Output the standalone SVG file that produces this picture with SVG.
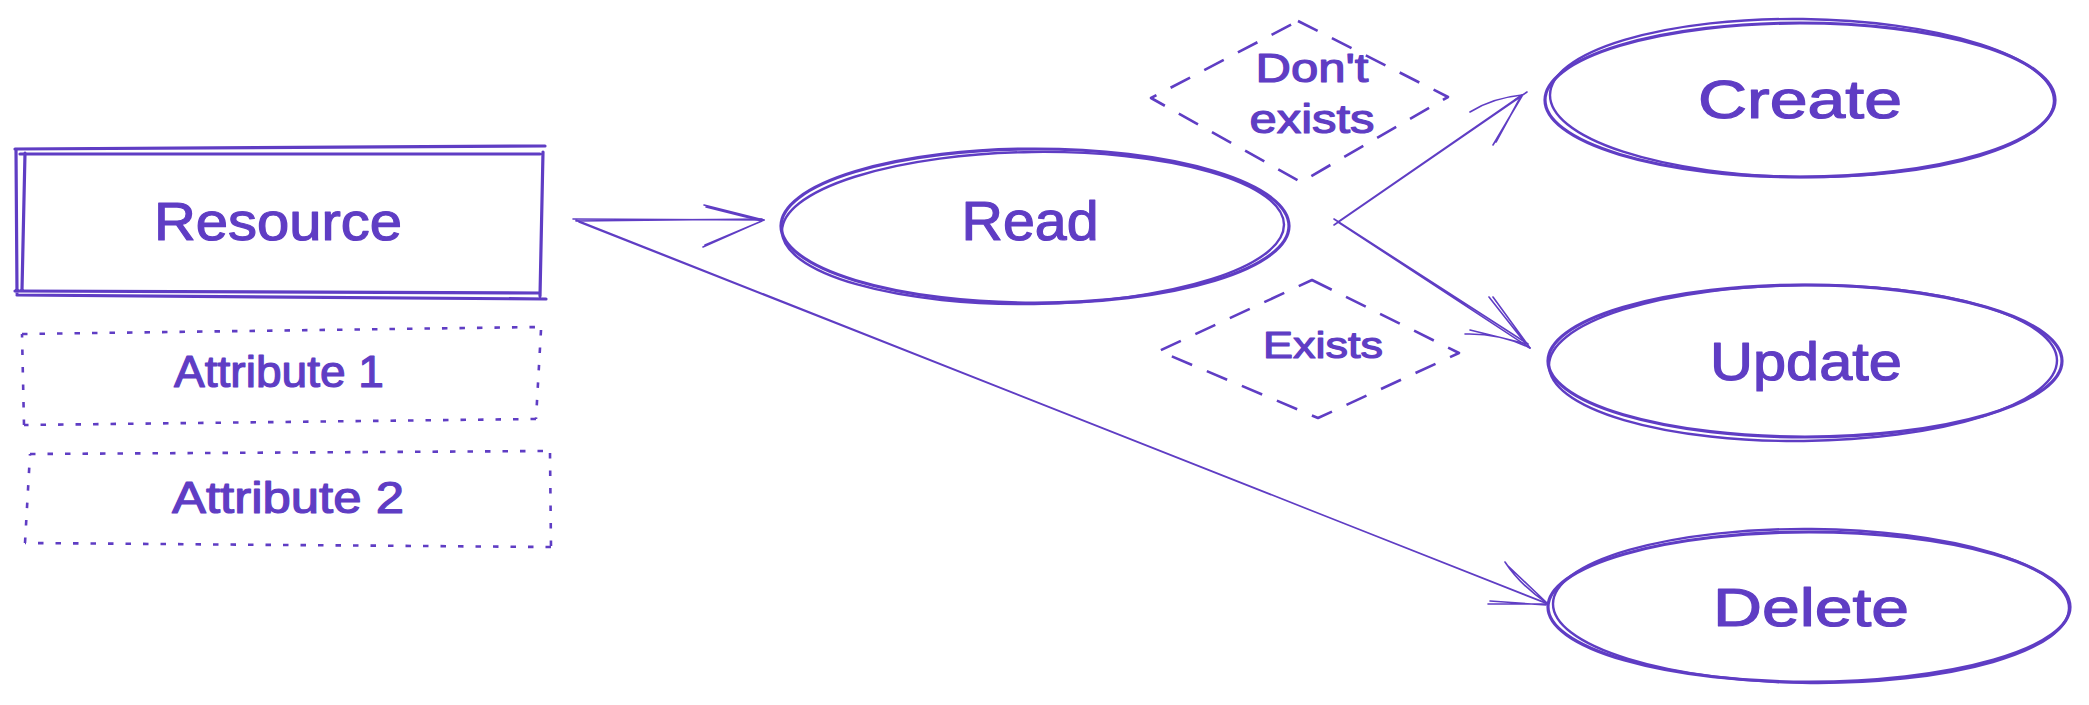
<svg xmlns="http://www.w3.org/2000/svg" width="2089" height="705" viewBox="0 0 2089 705">
<style>
  .bg { fill: #ffffff; }
  .s { fill: none; stroke: #5f3dc4; stroke-linecap: round; stroke-linejoin: round; }
  .thick { stroke-width: 3.2; }
  .mid { stroke-width: 2.4; }
  .thin { stroke-width: 1.6; }
  .dash { stroke-width: 2.6; stroke-dasharray: 22 16; stroke-linecap: butt; }
  .dot { stroke-width: 2.6; stroke-dasharray: 5.5 12; stroke-linecap: butt; }
  .t { fill: #5f3dc4; stroke: #5f3dc4; stroke-width: 1.2; stroke-linejoin: round; font-family: "Liberation Sans", "DejaVu Sans", sans-serif; text-anchor: middle; }
</style>
<rect class="bg" x="0" y="0" width="2089" height="705"/>

<g id="connectors">
  <!-- Resource -> Read -->
  <path class="s thin" d="M573 219 L764 220 M576 221 L762 219"/>
  <path class="s thin" d="M704 205 L764 220 L703 247 M706 207 L762 221 L705 245"/>
  <!-- Resource -> Delete -->
  <path class="s thin" d="M576 220 L1548 604 M579 222 L1546 603"/>
  <path class="s thin" d="M1505 562 Q1520 585 1548 604 M1507 565 L1547 603 M1488 604 L1548 604 M1490 601 L1546 605"/>
  <!-- Read -> Create -->
  <path class="s thin" d="M1338 222 L1522 95 M1334 225 L1520 97"/>
  <path class="s thin" d="M1470 112 Q1492 98 1522 95 M1493 145 L1522 96 M1496 142 L1520 98 M1515 100 L1527 92"/>
  <!-- Read -> Update -->
  <path class="s thin" d="M1338 222 L1530 348 M1334 219 L1528 344"/>
  <path class="s thin" d="M1465 334 Q1500 333 1530 348 M1470 330 L1527 344 M1493 297 L1530 348 M1489 297 L1526 344"/>
</g>

<g id="resource">
  <path class="s thick" d="M15 149 L545 146 M20 154 L540 154 M16 150 L17 293 M25 153 L22 290 M15 291 L540 293 M17 295 L546 299 M543 152 L540 296"/>
  <text class="t" x="278" y="240" font-size="54" textLength="248" lengthAdjust="spacingAndGlyphs">Resource</text>
</g>

<g id="attribute1">
  <path class="s dot" d="M22 334 L541 327 M541 330 L536 419 M536 419 L24 425 M24 425 L22 334"/>
  <text class="t" x="279" y="387" font-size="44" textLength="210" lengthAdjust="spacingAndGlyphs">Attribute 1</text>
</g>

<g id="attribute2">
  <path class="s dot" d="M30 454 L550 451 M550 453 L551 547 M551 547 L25 543 M25 543 L30 454"/>
  <text class="t" x="288" y="513" font-size="44" textLength="232" lengthAdjust="spacingAndGlyphs">Attribute 2</text>
</g>

<g id="read">
  <ellipse class="s thick" cx="1035" cy="226" rx="254" ry="77"/>
  <ellipse class="s mid" cx="1033" cy="228" rx="251" ry="76" transform="rotate(-0.8 1033 228)"/>
  <text class="t" x="1030" y="240" font-size="55" textLength="137" lengthAdjust="spacingAndGlyphs">Read</text>
</g>

<g id="dont-exists">
  <path class="s dash" d="M1298 21 L1448 97 L1301 182 L1151 98 Z"/>
  <text class="t" x="1312" y="82" font-size="40" textLength="113" lengthAdjust="spacingAndGlyphs">Don't</text>
  <text class="t" x="1312" y="133" font-size="40" textLength="125" lengthAdjust="spacingAndGlyphs">exists</text>
</g>

<g id="exists">
  <path class="s dash" d="M1312 280 L1459 353 L1318 418 L1159 351 Z"/>
  <text class="t" x="1323" y="358" font-size="37" textLength="120" lengthAdjust="spacingAndGlyphs">Exists</text>
</g>

<g id="create">
  <ellipse class="s thick" cx="1800" cy="100" rx="255" ry="77"/>
  <ellipse class="s mid" cx="1802" cy="98" rx="252" ry="79" transform="rotate(0.7 1802 98)"/>
  <text class="t" x="1800" y="118" font-size="54" textLength="204" lengthAdjust="spacingAndGlyphs">Create</text>
</g>

<g id="update">
  <ellipse class="s thick" cx="1805" cy="361" rx="257" ry="76"/>
  <ellipse class="s mid" cx="1803" cy="363" rx="254" ry="78" transform="rotate(-0.6 1803 363)"/>
  <text class="t" x="1806" y="380" font-size="54" textLength="192" lengthAdjust="spacingAndGlyphs">Update</text>
</g>

<g id="delete">
  <ellipse class="s thick" cx="1809" cy="607" rx="261" ry="75"/>
  <ellipse class="s mid" cx="1811" cy="606" rx="258" ry="77" transform="rotate(0.5 1811 606)"/>
  <text class="t" x="1811" y="626" font-size="54" textLength="196" lengthAdjust="spacingAndGlyphs">Delete</text>
</g>
</svg>
